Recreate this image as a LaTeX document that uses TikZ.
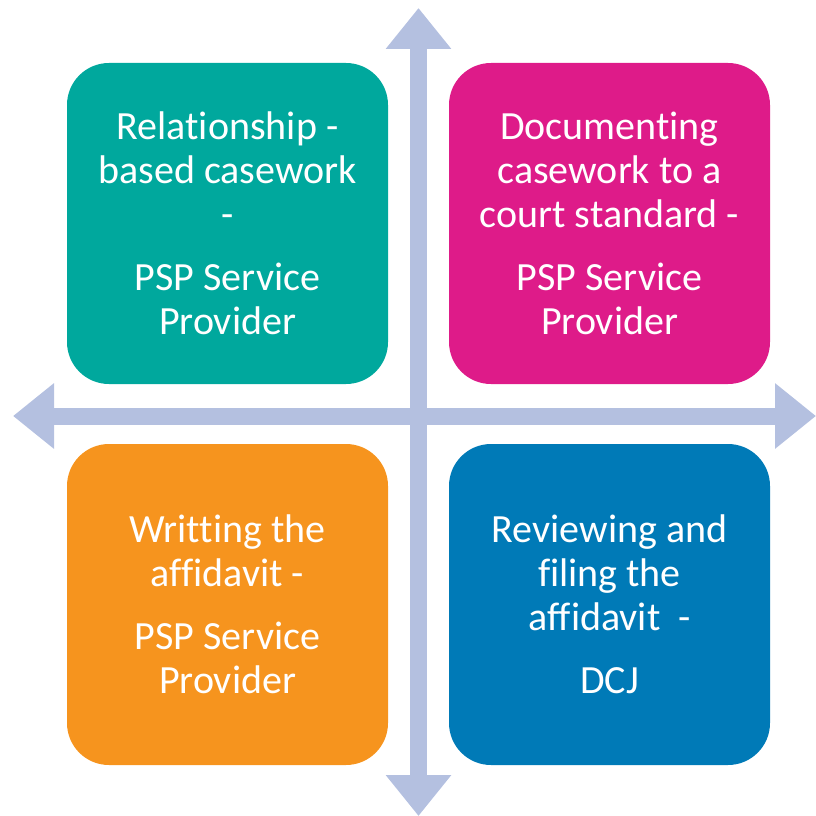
\documentclass[tikz,border=0pt]{standalone}
\usepackage{fontspec}
\setmainfont{Carlito}[Ligatures=NoCommon]
\usepackage{xcolor}
\usetikzlibrary{arrows.meta,positioning}

\definecolor{quadteal}{RGB}{0,168,157}
\definecolor{quadpink}{RGB}{222,27,137}
\definecolor{quadorange}{RGB}{246,148,30}
\definecolor{quadblue}{RGB}{0,122,183}
\definecolor{axisblue}{RGB}{180,192,224}

\begin{document}
\begin{tikzpicture}[
    x=1pt, y=-1pt,
    quad/.style={rounded corners=42pt, minimum width=321pt, minimum height=321pt, align=center, text=white, font=\fontsize{40}{44}\selectfont, inner sep=0pt},
    axis/.style={line width=17pt, draw=axisblue, {Triangle[length=41pt, width=63pt]}-{Triangle[length=41pt, width=63pt]}}
]
\useasboundingbox (0,0) rectangle (816,816);

% Axes
\coordinate (top) at (418.5,8);
\coordinate (bottom) at (418.5,816);
\coordinate (left) at (13,416);
\coordinate (right) at (816,416);
\draw[axis] (top) -- (bottom);
\draw[axis] (left) -- (right);

% Quadrants
\node[quad, fill=quadteal] (relation) at (227.5,223.5) {Relationship -\\based casework\\-\\[19pt]PSP Service\\Provider};
\node[quad, fill=quadpink] (document) at (609.5,223.5) {Documenting\\casework to a\\court standard -\\[19pt]PSP Service\\Provider};
\node[quad, fill=quadorange] (writing) at (227.5,604.5) {Writting the\\affidavit -\\[19pt]PSP Service\\Provider};
\node[quad, fill=quadblue] (review) at (609.5,604.5) {Reviewing and\\filing the\\affidavit~ -\\[19pt]DCJ};

\end{tikzpicture}
\end{document}
